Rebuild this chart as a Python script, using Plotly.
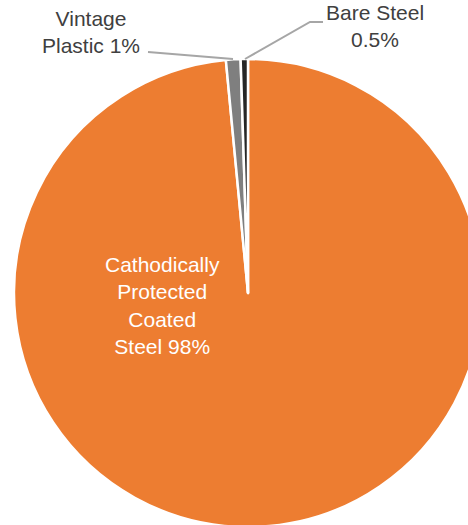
import plotly.graph_objects as go

# pipe material shares (%)
labels = ['Cathodically Protected Coated Steel', 'Vintage Plastic', 'Bare Steel']
values = [98, 1, 0.5]
texts = ['Cathodically<br>Protected<br>Coated<br>Steel 98%', 'Vintage<br>Plastic 1%', 'Bare Steel<br>0.5%']
colors = ['#ED7D31', '#7F7F7F', '#262626']

W, H = 482, 527
L, T = 14, 59
side = 468


def px(x, y):
    # pixel -> paper coords
    return (x - L) / side, (H - y) / side


fig = go.Figure()
fig.add_trace(go.Pie(
    labels=labels, values=values, sort=False, direction='clockwise', rotation=0,
    marker=dict(colors=colors, line=dict(color='white', width=2.5)),
    textinfo='none', hoverinfo='label+percent', showlegend=False,
))

# labels
pos = [(162, 305), (91, 32), (375, 26)]
tcol = ['white', '#404040', '#404040']
for t, (x, y), c in zip(texts, pos, tcol):
    ax, ay = px(x, y)
    fig.add_annotation(text=t, x=ax, y=ay, xref='paper', yref='paper', showarrow=False,
                       xanchor='center', yanchor='middle',
                       font=dict(family='Liberation Sans, Arial', size=21, color=c), align='center')

# leader lines
def path(pts):
    s = ''
    for i, (x, y) in enumerate(pts):
        a, b = px(x, y)
        s += ('M' if i == 0 else 'L') + f' {a} {b} '
    return s

fig.add_shape(type='path', xref='paper', yref='paper', path=path([(148, 52), (233, 59)]),
              line=dict(color='#A6A6A6', width=2))
fig.add_shape(type='path', xref='paper', yref='paper', path=path([(245, 59), (310, 22), (323, 22)]),
              line=dict(color='#A6A6A6', width=2))

fig.update_layout(width=W, height=H, margin=dict(l=L, r=0, t=T, b=0),
                  paper_bgcolor='white', plot_bgcolor='white')

fig.write_html("out.html", config={'displayModeBar': False},
               post_script="document.body.style.margin='0';document.body.style.overflow='hidden';")
